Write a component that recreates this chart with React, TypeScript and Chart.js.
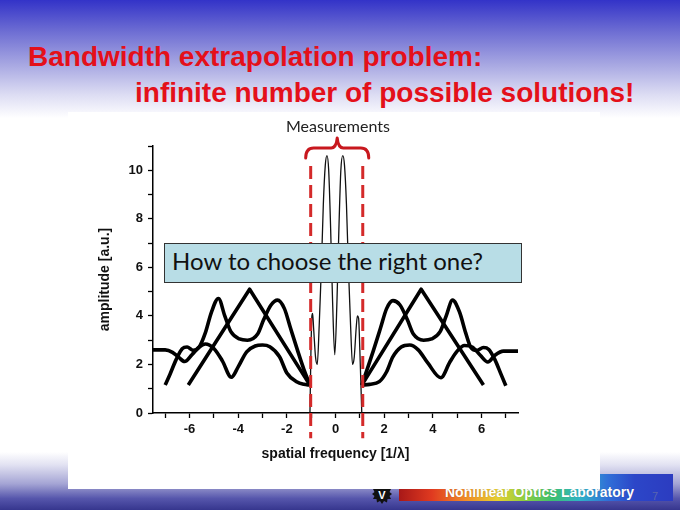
import React, { useEffect, useRef } from "react";
import { Chart, registerables } from "chart.js";
Chart.register(...registerables);

// ---- data ----
const xTickValues = [-7, -6, -5, -4, -3, -2, -1, 0, 1, 2, 3, 4, 5, 6, 7];
const xLabeledTicks = [-6, -4, -2, 0, 2, 4, 6];
const yTickValues = [0, 1, 2, 3, 4, 5, 6, 7, 8, 9, 10, 11];
const yLabeledTicks = [0, 2, 4, 6, 8, 10];

// measured (central) spectrum
const measX = [-1.05, -1.01, -0.97, -0.94, -0.9, -0.82, -0.75, -0.67, -0.58, -0.5, -0.42, -0.35, -0.28, -0.2, -0.12, -0.03, 0.06, 0.14, 0.22, 0.3, 0.37, 0.45, 0.53, 0.62, 0.7, 0.77, 0.85, 0.9, 0.95, 1.0, 1.08];
const measY = [0, 2.5, 4.0, 4.1, 3.5, 2.3, 2.0, 3.6, 6.0, 8.6, 10.2, 10.6, 10.0, 7.6, 4.6, 2.4, 4.6, 7.6, 10.0, 10.6, 10.2, 8.6, 6.0, 3.6, 2.0, 2.3, 3.5, 4.0, 3.9, 2.6, 0];

// extrapolated solution A (low, wavy)
const aLeftX = [-7.5, -7.0, -6.7, -6.45, -6.2, -5.9, -5.6, -5.35, -5.0, -4.65, -4.28, -4.0, -3.65, -3.3, -3.0, -2.7, -2.3, -2.0, -1.6, -1.3, -1.05];
const aLeftY = [2.6, 2.6, 2.5, 2.3, 2.12, 2.4, 2.72, 2.84, 2.66, 2.15, 1.47, 1.9, 2.52, 2.76, 2.8, 2.73, 2.32, 1.65, 1.29, 1.18, 1.15];
const aRightX = [1.08, 1.4, 1.8, 2.1, 2.35, 2.7, 3.05, 3.4, 3.8, 4.33, 4.7, 5.0, 5.3, 5.62, 5.95, 6.26, 6.55, 6.9, 7.5];
const aRightY = [1.15, 1.18, 1.29, 1.7, 2.3, 2.72, 2.8, 2.6, 2.05, 1.45, 2.1, 2.55, 2.78, 2.72, 2.38, 2.1, 2.38, 2.55, 2.55];

// extrapolated solution B (double hump)
const bLeftX = [-7.0, -6.8, -6.55, -6.3, -6.1, -5.85, -5.6, -5.35, -5.1, -4.81, -4.55, -4.3, -3.95, -3.62, -3.2, -2.95, -2.65, -2.38, -2.1, -1.85, -1.55, -1.3, -1.05];
const bLeftY = [1.15, 1.6, 2.2, 2.65, 2.72, 2.58, 2.72, 3.3, 4.15, 4.72, 4.0, 3.35, 3.05, 3.0, 3.25, 3.85, 4.45, 4.65, 4.3, 3.5, 2.55, 1.8, 1.15];
const bRightX = [1.08, 1.3, 1.55, 1.85, 2.1, 2.36, 2.65, 2.95, 3.2, 3.62, 3.95, 4.3, 4.55, 4.81, 5.1, 5.35, 5.55, 5.8, 6.08, 6.3, 6.55, 6.8, 7.0];
const bRightY = [1.15, 1.8, 2.55, 3.5, 4.3, 4.63, 4.45, 3.85, 3.25, 3.0, 3.05, 3.35, 4.0, 4.65, 4.15, 3.3, 2.72, 2.58, 2.7, 2.62, 2.2, 1.6, 1.12];

// extrapolated solution C (triangle)
const cLeftX = [-6.05, -3.53, -1.05];
const cLeftY = [1.15, 5.1, 1.15];
const cRightX = [1.08, 3.52, 6.08];
const cRightY = [1.15, 5.1, 1.15];

// measurement window limits
const windowX = [-1.02, 1.12];
const windowY = [10.18, -1.04];

const pts = (xs: number[], ys: number[]) => xs.map((x, i) => ({ x, y: ys[i] }));

const bracePlugin = {
  id: "brace",
  afterDatasetsDraw(chart: any) {
    const { ctx, scales, chartArea } = chart;
    const xl = scales.x.getPixelForValue(windowX[0]) - 5;
    const xr = scales.x.getPixelForValue(windowX[1]) + 6;
    const xm = (xl + xr) / 2;
    const t = chartArea.top;
    ctx.save();
    ctx.strokeStyle = "#c8181e";
    ctx.lineWidth = 3;
    ctx.lineCap = "round";
    ctx.lineJoin = "round";
    ctx.beginPath();
    ctx.moveTo(xl, t + 12);
    ctx.quadraticCurveTo(xl, t + 2, xl + 8, t + 2);
    ctx.lineTo(xm - 6, t + 2);
    ctx.quadraticCurveTo(xm - 1, t + 2, xm, t - 8);
    ctx.quadraticCurveTo(xm + 1, t + 2, xm + 6, t + 2);
    ctx.lineTo(xr - 8, t + 2);
    ctx.quadraticCurveTo(xr, t + 2, xr, t + 12);
    ctx.stroke();
    ctx.restore();
  },
};

export default function App() {
  const ref = useRef<HTMLCanvasElement>(null);
  useEffect(() => {
    const thick = (xs: number[], ys: number[], tension: boolean) => ({
      data: pts(xs, ys),
      showLine: true,
      pointRadius: 0,
      borderColor: "#000",
      borderWidth: 3.6,
      cubicInterpolationMode: tension ? "monotone" : "default",
      tension: 0,
      order: 2,
      borderJoinStyle: "round",
    });
    const dashed = (x: number) => ({
      data: pts([x, x], windowY),
      showLine: true,
      pointRadius: 0,
      borderColor: "#d42a2a",
      borderWidth: 3,
      borderDash: [13, 6],
      clip: false,
      order: 0,
    });
    const axisFont = { family: "'Liberation Sans', Arial, sans-serif", size: 13, weight: "bold" };
    const titleFont = { family: "'Liberation Sans', Arial, sans-serif", size: 14, weight: "bold" };
    const chart = new Chart(ref.current!, {
      type: "scatter",
      data: {
        datasets: [
          dashed(windowX[0]),
          dashed(windowX[1]),
          {
            data: pts(measX, measY),
            showLine: true,
            pointRadius: 0,
            borderColor: "#111",
            borderWidth: 1.3,
            cubicInterpolationMode: "monotone",
            order: 1,
          },
          thick(aLeftX, aLeftY, true),
          thick(aRightX, aRightY, true),
          thick(bLeftX, bLeftY, true),
          thick(bRightX, bRightY, true),
          thick(cLeftX, cLeftY, false),
          thick(cRightX, cRightY, false),
        ] as any,
      },
      options: {
        animation: false,
        responsive: false,
        maintainAspectRatio: false,
        layout: { padding: { left: 90, top: 146, right: 162, bottom: 37 } },
        plugins: { legend: { display: false }, tooltip: { enabled: false } },
        scales: {
          x: {
            type: "linear",
            min: -7.5,
            max: 7.5,
            afterBuildTicks: (s: any) => { s.ticks = xTickValues.map((v) => ({ value: v })); },
            afterFit: (s: any) => { s.height = 60; },
            border: { color: "#000", width: 1.5 },
            grid: { drawOnChartArea: false, drawTicks: true, tickLength: 5, tickColor: "#000", tickWidth: 1.3 },
            ticks: {
              padding: 4,
              color: "#111",
              font: axisFont,
              callback: (v: any) => (xLabeledTicks.includes(Number(v)) ? String(v) : ""),
              maxRotation: 0,
              autoSkip: false,
            },
            title: {
              display: true,
              text: "spatial frequency [1/λ]",
              color: "#111",
              font: titleFont,
              padding: { top: 4, bottom: 10 },
            },
          },
          y: {
            type: "linear",
            min: 0,
            max: 11,
            afterBuildTicks: (s: any) => { s.ticks = yTickValues.map((v) => ({ value: v })); },
            afterFit: (s: any) => { s.width = 63; },
            border: { color: "#000", width: 1.5 },
            grid: { drawOnChartArea: false, drawTicks: true, tickLength: 5, tickColor: "#000", tickWidth: 1.3 },
            ticks: {
              padding: 5,
              color: "#111",
              font: axisFont,
              callback: (v: any) => (yLabeledTicks.includes(Number(v)) ? String(v) : ""),
              autoSkip: false,
            },
            title: {
              display: true,
              text: "amplitude [a.u.]",
              color: "#111",
              font: titleFont,
              padding: { top: 7, bottom: 4 },
            },
          },
        },
      } as any,
      plugins: [bracePlugin],
    });
    return () => chart.destroy();
  }, []);

  const abs = (s: React.CSSProperties): React.CSSProperties => ({ position: "absolute", ...s });

  return (
    <div style={{ position: "fixed", left: 0, top: 0, width: 680, height: 510, overflow: "hidden", background: "#fff" }}>
      <div style={abs({ left: 0, top: 0, width: 680, height: 118, background: "linear-gradient(to bottom, #3333c8 0%, #6a6ad2 25%, #a8a8e2 55%, #dcdcf3 80%, #ffffff 100%)" })} />
      <div style={abs({ left: 0, top: 452, width: 680, height: 58, background: "linear-gradient(to bottom, #ffffff 0%, #e2e2f2 22%, #a4a4d4 55%, #5656ac 80%, #36368e 100%)" })} />
      <div style={abs({ left: 399, top: 474, width: 274, height: 27, background: "linear-gradient(to right, #a81818 0%, #e03a20 12%, #f08a28 24%, #e6d030 36%, #8cd040 46%, #3cc070 56%, #30b4c8 66%, #3070d8 76%, #2c46c8 86%, #2c3cc0 100%)" })} />
      <div style={abs({ left: 445, top: 485, fontFamily: "'Liberation Sans', Arial, sans-serif", fontWeight: "bold", fontSize: 14, lineHeight: "14px", color: "#fff", whiteSpace: "nowrap", textShadow: "0 0 1px rgba(0,0,0,0.3)" })}>Nonlinear Optics Laboratory</div>
      <div style={abs({ left: 652, top: 491, fontFamily: "'Liberation Sans', Arial, sans-serif", fontSize: 11, lineHeight: "11px", color: "#5a66b0" })}>7</div>
      <svg style={abs({ left: 372, top: 484, width: 20, height: 20 })} viewBox="0 0 20 20">
        <polygon points="10,0 12,3 15,1.5 15.5,5 19,5 17.5,8 20,10 17.5,12 19,15 15.5,15 15,18.5 12,17 10,20 8,17 5,18.5 4.5,15 1,15 2.5,12 0,10 2.5,8 1,5 4.5,5 5,1.5 8,3" fill="#111" />
        <text x="10" y="14.5" textAnchor="middle" fontFamily="'Liberation Sans', Arial, sans-serif" fontWeight="bold" fontSize="11" fill="#fff">V</text>
      </svg>
      <div style={abs({ left: 68, top: 112, width: 532, height: 377, background: "#fff" })} />
      <div style={abs({ left: 28, top: 43, fontFamily: "'Liberation Sans', Arial, sans-serif", fontWeight: "bold", fontSize: 28, lineHeight: "28px", color: "#e4101a", whiteSpace: "nowrap" })}>Bandwidth extrapolation problem:</div>
      <div style={abs({ left: 135, top: 79, fontFamily: "'Liberation Sans', Arial, sans-serif", fontWeight: "bold", fontSize: 28, lineHeight: "28px", color: "#e4101a", whiteSpace: "nowrap" })}>infinite number of possible solutions!</div>
      <canvas ref={ref} width={680} height={510} style={abs({ left: 0, top: 0, width: 680, height: 510 })} />
      <div style={abs({ left: 286, top: 118, fontFamily: "Lato, sans-serif", fontSize: 16, lineHeight: "16px", color: "#222", whiteSpace: "nowrap" })}>Measurements</div>
      <div style={abs({ left: 164, top: 243, width: 356, height: 38, background: "#b8dde6", border: "1px solid #333" })} />
      <div style={abs({ left: 172, top: 249, fontFamily: "Lato, sans-serif", fontSize: 24, lineHeight: "24px", color: "#111", whiteSpace: "nowrap" })}>How to choose the right one?</div>
    </div>
  );
}
